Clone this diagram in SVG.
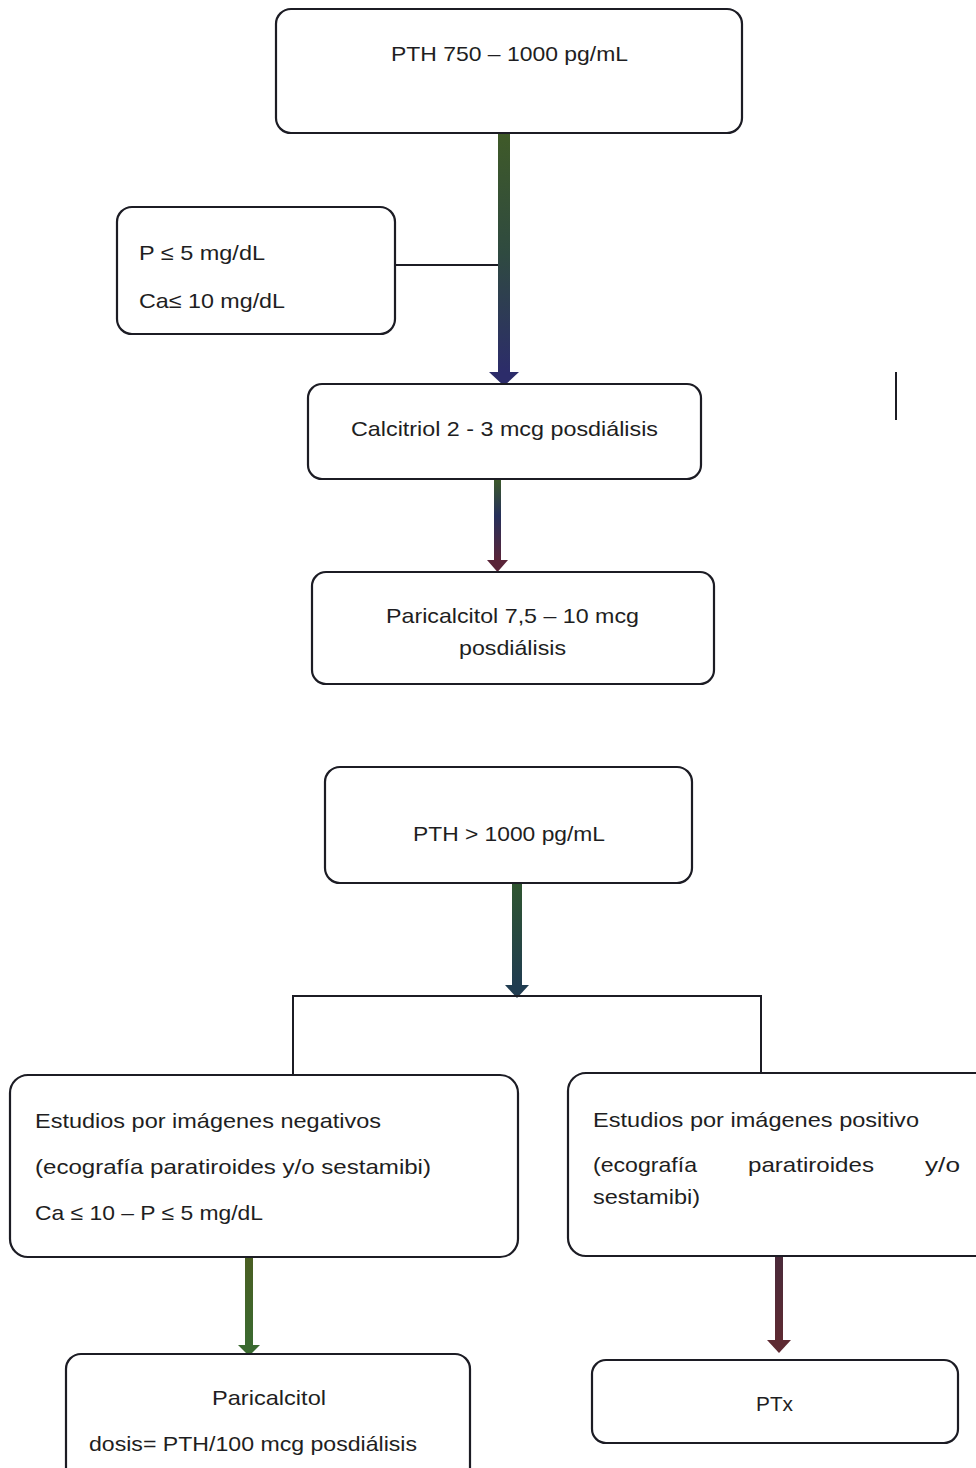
<svg xmlns="http://www.w3.org/2000/svg" width="976" height="1468" viewBox="0 0 976 1468">
<style>
.box{fill:#ffffff;stroke:#1c1c24;stroke-width:2.2}
.t{font-family:"Liberation Sans",Arial,sans-serif;font-size:21px;fill:#1e1e22}
.ln{stroke:#1c1c24;stroke-width:2;fill:none}
</style>
<defs>
<linearGradient id="g1" x1="0" y1="0" x2="0" y2="1"><stop offset="0" stop-color="#3f5a28"/><stop offset="0.5" stop-color="#2f4a40"/><stop offset="1" stop-color="#2c2c6a"/></linearGradient>
<linearGradient id="g2" x1="0" y1="0" x2="0" y2="1"><stop offset="0" stop-color="#3d5a2a"/><stop offset="0.45" stop-color="#26305a"/><stop offset="1" stop-color="#5a2438"/></linearGradient>
<linearGradient id="g3" x1="0" y1="0" x2="0" y2="1"><stop offset="0" stop-color="#2f5530"/><stop offset="1" stop-color="#203c50"/></linearGradient>
<linearGradient id="g4" x1="0" y1="0" x2="0" y2="1"><stop offset="0" stop-color="#4a5e22"/><stop offset="1" stop-color="#3a6a30"/></linearGradient>
<linearGradient id="g5" x1="0" y1="0" x2="0" y2="1"><stop offset="0" stop-color="#4a2a3a"/><stop offset="1" stop-color="#5e2a32"/></linearGradient>
</defs>
<rect width="976" height="1468" fill="#ffffff"/>
<g id="connectors">
<line class="ln" x1="395" y1="265" x2="498" y2="265"/>
<rect x="498" y="133" width="12" height="240" fill="url(#g1)"/>
<polygon points="489,372 519,372 504,386" fill="#2c2c6a"/>
<rect x="494" y="479" width="7" height="82" fill="url(#g2)"/>
<polygon points="487,560 508,560 497.5,572" fill="#5a2438"/>
<rect x="512" y="883" width="10" height="103" fill="url(#g3)"/>
<polygon points="505,985 529,985 517,998" fill="#203c50"/>
<polyline class="ln" points="293,1075 293,996 761,996 761,1074"/>
<rect x="245" y="1257" width="8" height="89" fill="url(#g4)"/>
<polygon points="238,1345 260,1345 249,1356" fill="#3a6a30"/>
<rect x="775" y="1256" width="8" height="85" fill="url(#g5)"/>
<polygon points="767,1340 791,1340 779,1353" fill="#5e2a32"/>
</g>
<g id="n1"><rect class="box" x="276" y="9" width="466" height="124" rx="15"/><text class="t" x="391" y="61" textLength="237" lengthAdjust="spacingAndGlyphs">PTH 750 – 1000 pg/mL</text></g>
<g id="n2"><rect class="box" x="117" y="207" width="278" height="127" rx="15"/><text class="t" x="139" y="260" textLength="126" lengthAdjust="spacingAndGlyphs">P ≤ 5 mg/dL</text><text class="t" x="139" y="308" textLength="146" lengthAdjust="spacingAndGlyphs">Ca≤ 10 mg/dL</text></g>
<g id="n3"><rect class="box" x="308" y="384" width="393" height="95" rx="14"/><text class="t" x="351" y="436" textLength="307" lengthAdjust="spacingAndGlyphs">Calcitriol 2 - 3 mcg posdiálisis</text></g>
<g id="n4"><rect class="box" x="312" y="572" width="402" height="112" rx="14"/><text class="t" x="386" y="623" textLength="253" lengthAdjust="spacingAndGlyphs">Paricalcitol 7,5 – 10 mcg</text><text class="t" x="459" y="655" textLength="107" lengthAdjust="spacingAndGlyphs">posdiálisis</text></g>
<g id="n5"><rect class="box" x="325" y="767" width="367" height="116" rx="15"/><text class="t" x="413" y="841" textLength="192" lengthAdjust="spacingAndGlyphs">PTH &gt; 1000 pg/mL</text></g>
<g id="n6"><rect class="box" x="10" y="1075" width="508" height="182" rx="18"/><text class="t" x="35" y="1128" textLength="346" lengthAdjust="spacingAndGlyphs">Estudios por imágenes negativos</text><text class="t" x="35" y="1174" textLength="396" lengthAdjust="spacingAndGlyphs">(ecografía paratiroides y/o sestamibi)</text><text class="t" x="35" y="1220" textLength="228" lengthAdjust="spacingAndGlyphs">Ca ≤ 10 – P ≤ 5 mg/dL</text></g>
<g id="n7"><rect class="box" x="568" y="1073" width="430" height="183" rx="18"/><text class="t" x="593" y="1127" textLength="326" lengthAdjust="spacingAndGlyphs">Estudios por imágenes positivo</text><text class="t" x="593" y="1172" textLength="104" lengthAdjust="spacingAndGlyphs">(ecografía</text><text class="t" x="748" y="1172" textLength="126" lengthAdjust="spacingAndGlyphs">paratiroides</text><text class="t" x="925" y="1172" textLength="35" lengthAdjust="spacingAndGlyphs">y/o</text><text class="t" x="593" y="1204" textLength="107" lengthAdjust="spacingAndGlyphs">sestamibi)</text></g>
<g id="n8"><rect class="box" x="66" y="1354" width="404" height="130" rx="15"/><text class="t" x="212" y="1405" textLength="114" lengthAdjust="spacingAndGlyphs">Paricalcitol</text><text class="t" x="89" y="1451" textLength="328" lengthAdjust="spacingAndGlyphs">dosis= PTH/100 mcg posdiálisis</text></g>
<g id="n9"><rect class="box" x="592" y="1360" width="366" height="83" rx="14"/><text class="t" x="756" y="1411" textLength="37" lengthAdjust="spacingAndGlyphs">PTx</text></g>
<line x1="896" y1="372" x2="896" y2="420" stroke="#1c1c24" stroke-width="2"/>
</svg>
